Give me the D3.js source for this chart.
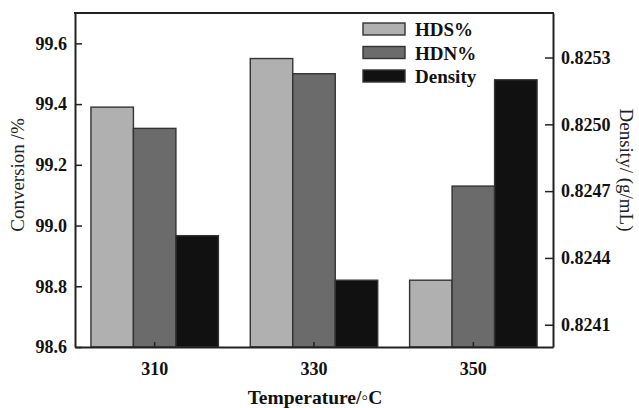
<!DOCTYPE html>
<html>
<head>
<meta charset="utf-8">
<script src="https://cdn.jsdelivr.net/npm/d3@7"></script>
<style>
  html, body { margin: 0; padding: 0; background: #fff; }
  svg { display: block; }
</style>
</head>
<body>
<svg id="chart" width="639" height="408"></svg>
<script>
const categories = ["310", "330", "350"];
const seriesNames = ["HDS%", "HDN%", "Density"];
const hdsValues = [99.39, 99.55, 98.82];
const hdnValues = [99.32, 99.50, 99.13];
const densityValues = [0.8245, 0.8243, 0.8252];
const leftTicks = [98.6, 98.8, 99.0, 99.2, 99.4, 99.6];
const rightTicks = [0.8241, 0.8244, 0.8247, 0.8250, 0.8253];
const colors = ["#b0b0b0", "#6b6b6b", "#111111"];

const svg = d3.select("#chart");
const m = { left: 75, right: 553, top: 13, bottom: 347 };
const FONT = "'Liberation Serif', 'Times New Roman', serif";

const x0 = d3.scaleBand().domain(categories).range([m.left, m.right]).paddingInner(0.2).paddingOuter(0.1);
const x1 = d3.scaleBand().domain(seriesNames).range([0, x0.bandwidth()]);
const yL = d3.scaleLinear().domain([98.6, 99.7]).range([m.bottom, m.top]);
const yR = d3.scaleLinear().domain([0.8240, 0.8255]).range([m.bottom, m.top]);

const rows = categories.map((c, i) => ({
  cat: c,
  vals: [
    { s: "HDS%", v: hdsValues[i], sc: yL, col: colors[0] },
    { s: "HDN%", v: hdnValues[i], sc: yL, col: colors[1] },
    { s: "Density", v: densityValues[i], sc: yR, col: colors[2] }
  ]
}));

const g = svg.append("g");
g.selectAll("g.grp").data(rows).join("g")
  .attr("class", "grp")
  .attr("transform", d => `translate(${x0(d.cat)},0)`)
  .selectAll("rect").data(d => d.vals).join("rect")
  .attr("x", d => x1(d.s))
  .attr("width", x1.bandwidth())
  .attr("y", d => d.sc(d.v))
  .attr("height", d => m.bottom - d.sc(d.v))
  .attr("fill", d => d.col)
  .attr("stroke", "#333")
  .attr("stroke-width", 1.4);

// Axes
const axL = svg.append("g").attr("transform", `translate(${m.left},0)`)
  .call(d3.axisLeft(yL).tickValues(leftTicks).tickFormat(d3.format(".1f")).tickSizeInner(-7).tickSizeOuter(0).tickPadding(8));
const axR = svg.append("g").attr("transform", `translate(${m.right},0)`)
  .call(d3.axisRight(yR).tickValues(rightTicks).tickFormat(d3.format(".4f")).tickSizeInner(-8).tickSizeOuter(0).tickPadding(8));
const axB = svg.append("g").attr("transform", `translate(0,${m.bottom})`)
  .call(d3.axisBottom(x0).tickSizeInner(-5).tickSizeOuter(0).tickPadding(15));

[axL, axR, axB].forEach(a => {
  a.attr("font-family", FONT);
  a.selectAll("path.domain").attr("stroke", "#222").attr("stroke-width", 2);
  a.selectAll(".tick line").attr("stroke", "#222").attr("stroke-width", 1.5);
  a.selectAll("text").attr("font-family", FONT).attr("font-weight", "bold").attr("font-size", 18).attr("fill", "#111");
});

// top frame line
svg.append("line").attr("x1", m.left - 1).attr("x2", m.right + 1).attr("y1", m.top).attr("y2", m.top)
  .attr("stroke", "#222").attr("stroke-width", 2);

// Axis titles
svg.append("text").attr("transform", `translate(24,${(m.top + m.bottom) / 2 - 5}) rotate(-90)`)
  .attr("text-anchor", "middle").attr("font-family", FONT).attr("font-size", 19).attr("fill", "#222")
  .text("Conversion /%");
svg.append("text").attr("transform", `translate(620,${(m.top + m.bottom) / 2 - 10}) rotate(90)`)
  .attr("text-anchor", "middle").attr("font-family", FONT).attr("font-size", 19).attr("fill", "#222")
  .text("Density/ (g/mL)");
svg.append("text").attr("x", 315).attr("y", 404)
  .attr("text-anchor", "middle").attr("font-family", FONT).attr("font-weight", "bold").attr("font-size", 19.5).attr("fill", "#111")
  .text("Temperature/\u25E6C");

// Legend
const lg = svg.append("g").attr("transform", "translate(363,23)");
const li = lg.selectAll("g").data(seriesNames).join("g").attr("transform", (d, i) => `translate(0,${i * 23.5})`);
li.append("rect").attr("width", 42).attr("height", 12).attr("fill", (d, i) => colors[i]).attr("stroke", "#333").attr("stroke-width", 1.4);
li.append("text").attr("x", 52).attr("y", 13).attr("font-family", FONT).attr("font-weight", "bold").attr("font-size", 19).attr("fill", "#111")
  .text(d => d);
</script>
</body>
</html>
